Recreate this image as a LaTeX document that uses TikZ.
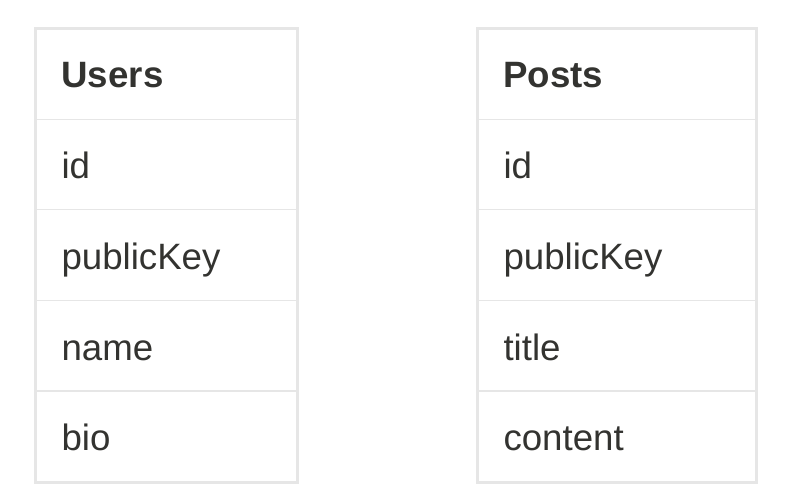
\documentclass[tikz,border=0pt]{standalone}
\usepackage{fontspec}
\setmainfont{Liberation Sans}
\definecolor{gridline}{RGB}{230,230,230}
\definecolor{celltext}{RGB}{51,51,48}
\tikzset{every picture/.style={line width=0.75pt}}
\tikzset{
  cell/.style={anchor=base west, inner sep=0pt, text=celltext, font=\fontsize{27.5}{32}\selectfont},
  headcell/.style={cell, font=\fontsize{27.5}{32}\selectfont\bfseries},
}
\begin{document}
\begin{tikzpicture}[x=0.75pt,y=0.75pt,yscale=-1,xscale=1]
	\useasboundingbox (0,0) rectangle (800,502);

	%Shape: Rectangle [Users table]
	\draw [draw=gridline, line width=2.25pt] (35.5,28.5) rectangle (297.5,482) ;
	%Straight Lines [Users rows]
	\draw [draw=gridline, line width=1.1pt] (35.5,119.5) -- (297.5,119.5) ;
	\draw [draw=gridline, line width=1.1pt] (35.5,209.5) -- (297.5,209.5) ;
	\draw [draw=gridline, line width=1.1pt] (35.5,300.5) -- (297.5,300.5) ;
	\draw [draw=gridline, line width=1.1pt] (35.5,391) -- (297.5,391) ;

	%Shape: Rectangle [Posts table]
	\draw [draw=gridline, line width=2.25pt] (477,28.5) rectangle (756,482) ;
	%Straight Lines [Posts rows]
	\draw [draw=gridline, line width=1.1pt] (477,119.5) -- (756,119.5) ;
	\draw [draw=gridline, line width=1.1pt] (477,209.5) -- (756,209.5) ;
	\draw [draw=gridline, line width=1.1pt] (477,300.5) -- (756,300.5) ;
	\draw [draw=gridline, line width=1.1pt] (477,391) -- (756,391) ;

	% Text Node
	\node [headcell] (usershead) at (61,88) {Users};
	\node [cell] (usersid) at (61,179) {id};
	\node [cell] (userskey) at (61,270) {publicKey};
	\node [cell] (usersname) at (61,360) {name};
	\node [cell] (usersbio) at (61,450) {bio};

	% Text Node
	\node [headcell] (postshead) at (503,88) {Posts};
	\node [cell] (postsid) at (503,179) {id};
	\node [cell] (postskey) at (503,270) {publicKey};
	\node [cell] (poststitle) at (503,360) {title};
	\node [cell] (postscontent) at (503,450) {content};

\end{tikzpicture}
\end{document}
